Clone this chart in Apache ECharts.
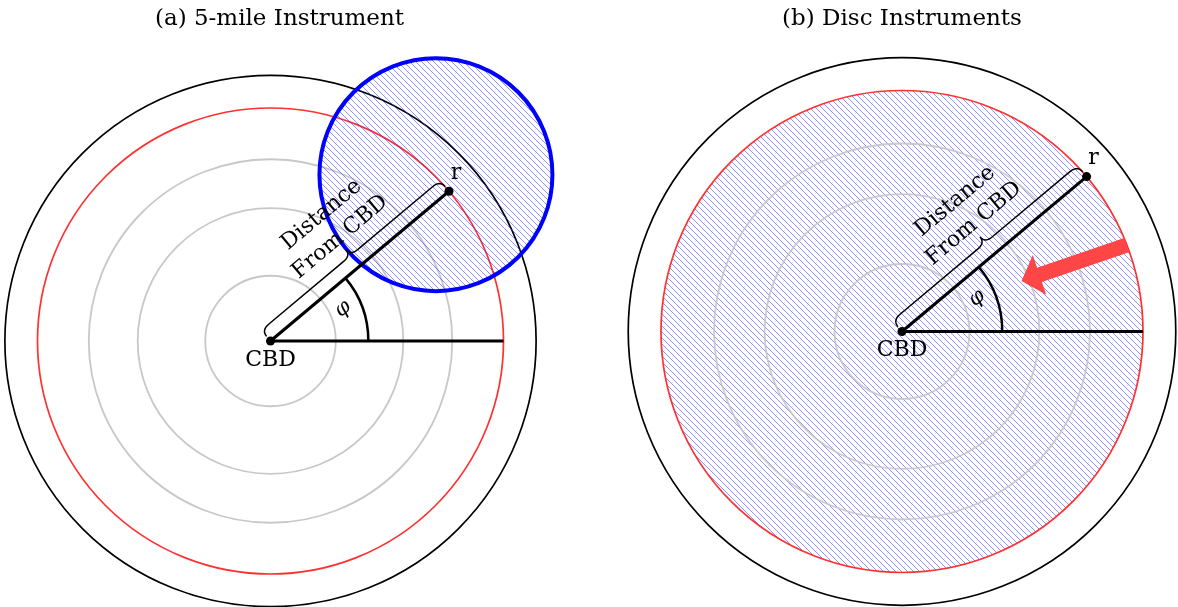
<!DOCTYPE html>
<html><head><meta charset="utf-8">
<script src="https://cdn.jsdelivr.net/npm/echarts@6/dist/echarts.min.js"></script>
<style>html,body{margin:0;padding:0;background:#fff}#c{width:1178px;height:607px}</style>
</head><body><div id="c"></div>
<script>
// ---------- diagram data (distances in miles from the CBD) ----------
const panelTitles = ['(a) 5-mile Instrument', '(b) Disc Instruments'];
const ringRadii = [1.4, 2.85, 3.9];          // grey reference rings
const bufferRadius = [5, 5];                 // red 5-mile circle
const outerRadius = [5.7, 5.68];             // black outer boundary
const pointDistance = [5, 5];                // distance of point r
const pointAngleDeg = [40, 40];              // angle phi
const angleArcRadius = [2.1, 2.08];
const instrumentCenter = [3.55, 3.57];       // blue instrument disc (panel a)
const instrumentRadius = 2.5;
const arrowFrom = [4.66, 1.79];              // red arrow (panel b)
const arrowTo = [2.48, 1.05];
const braceLabel = ['Distance', 'From CBD'];
const braceLabelPos = [2.58, 1.06];          // along / across the ray
const angleLabelPos = [1.7, 24];             // radius, degrees
const centerLabel = 'CBD';
const pointLabel = 'r';
const angleLabel = 'φ';

// ---------- layout (pixels) ----------
const layout = [
  {cx: 270.5, cy: 341, s: 46.6, xr: [-5.8, 6.4], yr: [-5.7, 6.4], titleX: 279.5},
  {cx: 902, cy: 331.5, s: 48.2, xr: [-5.8, 5.7], yr: [-5.7, 6.2], titleX: 902}
];
const FONT = 'DejaVu Serif';

// hatch pattern
const tile = 6;
const cv = document.createElement('canvas');
cv.width = tile; cv.height = tile;
const g = cv.getContext('2d');
g.strokeStyle = 'rgba(50,50,255,0.6)';
g.lineWidth = 0.9;
g.beginPath();
g.moveTo(-1, -1); g.lineTo(tile + 1, tile + 1);
g.moveTo(tile - 1, -1); g.lineTo(tile + 1, 1);
g.moveTo(-1, tile - 1); g.lineTo(1, tile + 1);
g.stroke();
const hatch = {image: cv, repeat: 'repeat'};

const rad = d => d * Math.PI / 180;
const polar = (r, deg) => [r * Math.cos(rad(deg)), r * Math.sin(rad(deg))];

function bracePoints(L, deg) {
  const v0 = 0.13, v1 = 0.3, v2 = 0.46, k = 0.2, m = L / 2;
  const pts = [];
  const quad = (a, c, b) => {
    for (let i = 0; i <= 10; i++) {
      const t = i / 10;
      pts.push([(1 - t) * (1 - t) * a[0] + 2 * (1 - t) * t * c[0] + t * t * b[0],
                (1 - t) * (1 - t) * a[1] + 2 * (1 - t) * t * c[1] + t * t * b[1]]);
    }
  };
  quad([0, v0], [0, v1], [k, v1]);
  quad([m - k, v1], [m, v1], [m, v2]);
  quad([m, v2], [m, v1], [m + k, v1]);
  quad([L - k, v1], [L, v1], [L, v0]);
  const c = Math.cos(rad(deg)), s = Math.sin(rad(deg));
  return pts.map(([u, v]) => [u * c - v * s, u * s + v * c]);
}

const grids = [], xAxes = [], yAxes = [], series = [], titles = [];

layout.forEach((L, i) => {
  grids.push({left: L.cx + L.xr[0] * L.s, top: L.cy - L.yr[1] * L.s,
    width: (L.xr[1] - L.xr[0]) * L.s, height: (L.yr[1] - L.yr[0]) * L.s, containLabel: false});
  xAxes.push({type: 'value', gridIndex: i, min: L.xr[0], max: L.xr[1], show: false});
  yAxes.push({type: 'value', gridIndex: i, min: L.yr[0], max: L.yr[1], show: false});
  titles.push({text: panelTitles[i], left: L.titleX, top: 7, textAlign: 'center', padding: 0,
    textStyle: {fontFamily: FONT, fontSize: 23, fontWeight: 'normal', color: '#000', lineHeight: 24}});

  const ax = {xAxisIndex: i, yAxisIndex: i};
  const circleSeries = (data, style, z) => ({
    type: 'custom', ...ax, z, silent: true, data,
    renderItem: (p, api) => {
      const c = api.coord([api.value(0), api.value(1)]);
      const r = api.size([api.value(2), 0])[0];
      return {type: 'circle', shape: {cx: c[0], cy: c[1], r}, style};
    }
  });

  // grey rings
  series.push(circleSeries(ringRadii.map(r => [0, 0, r]),
    {fill: 'none', stroke: i === 1 ? 'rgba(195,195,195,0.85)' : '#c8c8c8', lineWidth: 1.8}, i === 1 ? 4 : 2));
  // outer black circle
  series.push(circleSeries([[0, 0, outerRadius[i]]], {fill: 'none', stroke: '#000', lineWidth: 1.7}, 2));
  // red buffer circle (hatched in panel b)
  series.push(circleSeries([[0, 0, bufferRadius[i]]],
    {fill: i === 1 ? hatch : 'none', stroke: '#ff3030', lineWidth: 1.7}, 3));
  // blue instrument disc (panel a)
  if (i === 0) {
    series.push(circleSeries([[instrumentCenter[0], instrumentCenter[1], instrumentRadius]],
      {fill: hatch, stroke: '#0000ff', lineWidth: 4}, 4));
  }

  const rp = polar(pointDistance[i], pointAngleDeg[i]);
  // ray to r and baseline
  series.push({
    type: 'custom', ...ax, z: 5, silent: true,
    data: [[0, 0, rp[0], rp[1]], [0, 0, bufferRadius[i], 0]],
    renderItem: (p, api) => {
      const a = api.coord([api.value(0), api.value(1)]);
      const b = api.coord([api.value(2), api.value(3)]);
      return {type: 'line', shape: {x1: a[0], y1: a[1], x2: b[0], y2: b[1]},
        style: {stroke: '#000', lineWidth: 3}};
    }
  });
  // angle arc
  series.push({
    type: 'custom', ...ax, z: 5, silent: true,
    data: [[0, 0, angleArcRadius[i], pointAngleDeg[i]]],
    renderItem: (p, api) => {
      const c = api.coord([api.value(0), api.value(1)]);
      const r = api.size([api.value(2), 0])[0];
      return {type: 'arc', shape: {cx: c[0], cy: c[1], r, startAngle: -rad(api.value(3)), endAngle: 0, clockwise: true},
        style: {fill: 'none', stroke: '#000', lineWidth: 2.5}};
    }
  });
  // brace
  const bp = bracePoints(pointDistance[i], pointAngleDeg[i]);
  series.push({
    type: 'custom', ...ax, z: 5, silent: true,
    data: [[0, 0]],
    renderItem: (p, api) => ({type: 'polyline', shape: {points: bp.map(q => api.coord(q))},
      style: {fill: 'none', stroke: '#000', lineWidth: 1.5}})
  });
  // red arrow (panel b)
  if (i === 1) {
    series.push({
      type: 'custom', ...ax, z: 6, silent: true,
      data: [[arrowFrom[0], arrowFrom[1], arrowTo[0], arrowTo[1]]],
      renderItem: (p, api) => {
        const a = api.coord([api.value(0), api.value(1)]);
        const b = api.coord([api.value(2), api.value(3)]);
        const dx = b[0] - a[0], dy = b[1] - a[1], len = Math.hypot(dx, dy);
        const ux = dx / len, uy = dy / len, nx = -uy, ny = ux;
        const hw = 7.5, hh = 21, hl = 19;
        const bx = b[0] - ux * hl, by = b[1] - uy * hl;
        const pts = [
          [a[0] + nx * hw, a[1] + ny * hw], [bx + nx * hw, by + ny * hw], [bx + nx * hh, by + ny * hh],
          [b[0], b[1]], [bx - nx * hh, by - ny * hh], [bx - nx * hw, by - ny * hw], [a[0] - nx * hw, a[1] - ny * hw]
        ];
        return {type: 'polygon', shape: {points: pts}, style: {fill: '#ff4646'}};
      }
    });
  }
  // dots at CBD and r
  series.push({
    type: 'scatter', ...ax, z: 7, silent: true, symbolSize: 9,
    itemStyle: {color: '#000', opacity: 1}, data: [[0, 0], rp]
  });
  // labels
  const c40 = Math.cos(rad(pointAngleDeg[i])), s40 = Math.sin(rad(pointAngleDeg[i]));
  const bl = [braceLabelPos[0] * c40 - braceLabelPos[1] * s40, braceLabelPos[0] * s40 + braceLabelPos[1] * c40];
  const al = polar(angleLabelPos[0], angleLabelPos[1]);
  series.push({
    type: 'custom', ...ax, z: 8, silent: true,
    data: [[0, 0]],
    renderItem: (p, api) => {
      const c0 = api.coord([0, 0]);
      const cr = api.coord(rp);
      const cb = api.coord(bl);
      const ca = api.coord(al);
      const rot = rad(pointAngleDeg[i]);
      const base = {fill: '#000', align: 'center', verticalAlign: 'middle'};
      return {type: 'group', children: [
        {type: 'text', x: c0[0], y: c0[1] + 19, style: {...base, text: centerLabel, font: `22px "${FONT}"`}},
        {type: 'text', x: cr[0] + 7, y: cr[1] - 18, style: {...base, text: pointLabel, font: `22px "${FONT}"`}},
        {type: 'text', x: cb[0], y: cb[1], rotation: rot,
          style: {...base, text: braceLabel.join('\n'), font: `22px "${FONT}"`, lineHeight: 29}},
        {type: 'text', x: ca[0], y: ca[1], rotation: rot,
          style: {...base, text: angleLabel, font: `italic 21px "${FONT}"`}}
      ]};
    }
  });
});

const chart = echarts.init(document.getElementById('c'));
chart.setOption({
  animation: false,
  backgroundColor: '#fff',
  title: titles,
  grid: grids,
  xAxis: xAxes,
  yAxis: yAxes,
  series
});
</script></body></html>
